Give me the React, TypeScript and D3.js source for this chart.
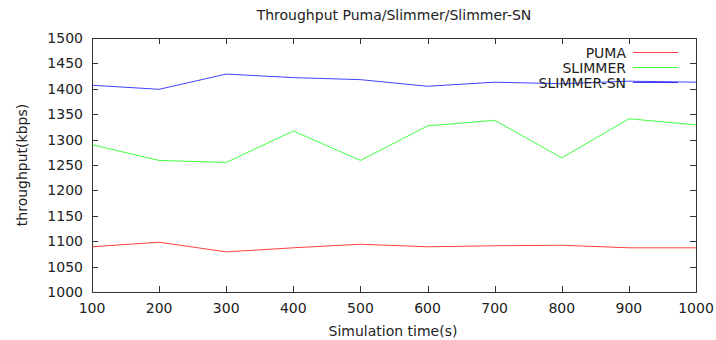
import React, { useRef, useEffect } from 'react';
import * as d3 from 'd3';

const times = [100, 200, 300, 400, 500, 600, 700, 800, 900, 1000];
const puma = [1089, 1098, 1079, 1087, 1094, 1089, 1091, 1092, 1087, 1087];
const slimmer = [1290, 1259, 1255, 1317, 1259, 1327, 1338, 1264, 1341, 1329];
const slimmerSN = [1407, 1399, 1429, 1422, 1418, 1405, 1413, 1410, 1415, 1413];
const yTicks = [1000, 1050, 1100, 1150, 1200, 1250, 1300, 1350, 1400, 1450, 1500];

const series = [
    { name: 'PUMA', values: puma, color: '#ff0000' },
    { name: 'SLIMMER', values: slimmer, color: '#00ff00' },
    { name: 'SLIMMER-SN', values: slimmerSN, color: '#0000ff' },
];

const Chart: React.FC = () => {
    const svgRef = useRef<SVGSVGElement | null>(null);

    useEffect(() => {
        if (!svgRef.current) return;
        const svg = d3.select(svgRef.current);
        svg.selectAll("*").remove();

        const W = 716, H = 340;
        const left = 92, right = 696, top = 38, bottom = 292;
        const font = "'DejaVu Sans', sans-serif";
        const axisColor = "#333";
        const fs = "14px";

        svg.attr("width", W).attr("height", H);
        svg.append("rect").attr("width", W).attr("height", H).attr("fill", "#fff");

        const x = d3.scaleLinear().domain([100, 1000]).range([left, right]);
        const y = d3.scaleLinear().domain([1000, 1500]).range([bottom, top]);

        // frame
        svg.append("rect").attr("x", left + 0.5).attr("y", top + 0.5)
            .attr("width", right - left).attr("height", bottom - top)
            .attr("fill", "none").attr("stroke", axisColor).attr("stroke-width", 1);

        // ticks on all four sides, pointing inward
        const tl = 6;
        times.forEach(t => {
            const px = Math.round(x(t)) + 0.5;
            svg.append("line").attr("x1", px).attr("x2", px).attr("y1", bottom).attr("y2", bottom - tl).attr("stroke", axisColor);
            svg.append("line").attr("x1", px).attr("x2", px).attr("y1", top).attr("y2", top + tl).attr("stroke", axisColor);
            svg.append("text").attr("x", x(t)).attr("y", bottom + 21).attr("text-anchor", "middle")
                .style("font-family", font).style("font-size", fs).style("fill", "#222").text(t);
        });
        yTicks.forEach(v => {
            const py = Math.round(y(v)) + 0.5;
            svg.append("line").attr("x1", left).attr("x2", left + tl).attr("y1", py).attr("y2", py).attr("stroke", axisColor);
            svg.append("line").attr("x1", right).attr("x2", right - tl).attr("y1", py).attr("y2", py).attr("stroke", axisColor);
            svg.append("text").attr("x", left - 9).attr("y", y(v) + 5).attr("text-anchor", "end")
                .style("font-family", font).style("font-size", fs).style("fill", "#222").text(v);
        });

        // lines
        const line = d3.line<number>().x((_, i) => x(times[i])).y(d => y(d));
        series.forEach(s => {
            svg.append("path").attr("d", line(s.values) as string)
                .attr("fill", "none").attr("stroke", s.color).attr("stroke-width", 1).attr("opacity", 0.75);
        });

        // legend
        series.forEach((s, i) => {
            const ly = 52.5 + i * 15;
            svg.append("text").attr("x", 626).attr("y", ly + 5).attr("text-anchor", "end")
                .style("font-family", font).style("font-size", fs).style("fill", "#222").text(s.name);
            svg.append("line").attr("x1", 633).attr("x2", 678).attr("y1", ly).attr("y2", ly)
                .attr("stroke", s.color).attr("stroke-width", 1).attr("opacity", 0.75);
        });

        // title and axis labels
        svg.append("text").attr("x", 394).attr("y", 20).attr("text-anchor", "middle")
            .style("font-family", font).style("font-size", fs).style("fill", "#222")
            .text("Throughput Puma/Slimmer/Slimmer-SN");
        svg.append("text").attr("x", 393).attr("y", 336).attr("text-anchor", "middle")
            .style("font-family", font).style("font-size", fs).style("fill", "#222")
            .text("Simulation time(s)");
        svg.append("text").attr("transform", "translate(27,165) rotate(-90)").attr("text-anchor", "middle")
            .style("font-family", font).style("font-size", fs).style("fill", "#222")
            .text("throughput(kbps)");
    }, []);

    return <svg ref={svgRef}></svg>;
};

export default function App() {
    return (
        <div style={{ position: 'absolute', left: 0, top: 0 }}>
            <Chart />
        </div>
    );
}
